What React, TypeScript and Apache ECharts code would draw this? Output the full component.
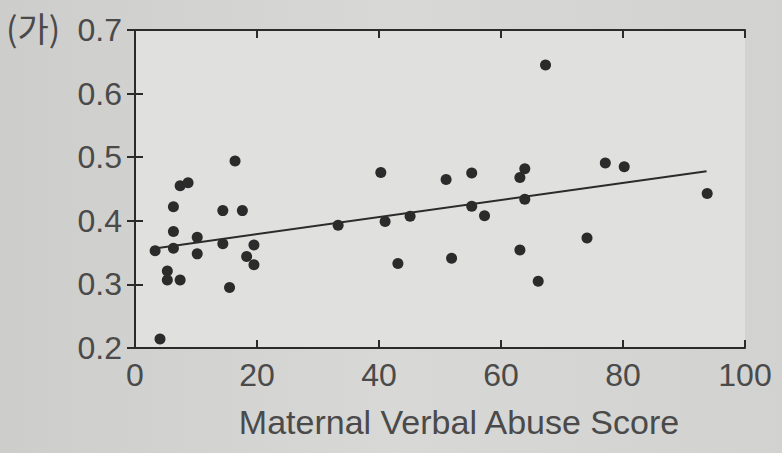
import React, { useEffect, useRef } from "react";
import * as echarts from "echarts";

const xTicks = [0, 20, 40, 60, 80, 100];
const yTicks = [0.2, 0.3, 0.4, 0.5, 0.6, 0.7];

const abuseScores = [
  3.3, 4.1, 5.3, 5.3, 6.3, 6.3, 6.3, 7.4, 7.4, 8.7, 10.2, 10.2, 14.4, 14.4,
  15.5, 16.4, 17.6, 18.3, 19.5, 19.5, 33.3, 40.3, 41.0, 43.1, 45.1, 51.0,
  51.9, 55.2, 55.2, 57.3, 63.1, 63.9, 63.9, 63.1, 66.1, 67.3, 74.1, 77.1,
  80.2, 93.8,
];
const outcomeValues = [
  0.353, 0.214, 0.321, 0.307, 0.422, 0.383, 0.357, 0.307, 0.455, 0.46, 0.374,
  0.348, 0.416, 0.364, 0.295, 0.494, 0.416, 0.344, 0.362, 0.331, 0.393, 0.476,
  0.399, 0.333, 0.407, 0.465, 0.341, 0.475, 0.423, 0.408, 0.468, 0.482, 0.434,
  0.354, 0.305, 0.645, 0.373, 0.491, 0.485, 0.443,
];
const fitLineX = [3.5, 93.7];
const fitLineY = [0.357, 0.478];

const INK = "#2b2b2b";
const TEXT = "#4a4a4a";
const FONT = "'Liberation Sans', Arial, sans-serif";

export default function App() {
  const ref = useRef<HTMLDivElement>(null);
  useEffect(() => {
    if (!ref.current) return;
    const chart = echarts.init(ref.current, null, { renderer: "svg" });
    const points = abuseScores.map((x, i) => [x, outcomeValues[i]]);
    const line = fitLineX.map((x, i) => [x, fitLineY[i]]);
    const axisLine = { show: true, lineStyle: { color: INK, width: 2 } };
    const tickStyle = { show: true, inside: true, length: 8, lineStyle: { color: INK, width: 2 } };
    chart.setOption({
      animation: false,
      backgroundColor: {
        type: "linear", x: 0, y: 0, x2: 1, y2: 0,
        colorStops: [
          { offset: 0, color: "#cdcdcb" },
          { offset: 0.5, color: "#d8d8d6" },
          { offset: 1, color: "#d2d2d0" },
        ],
      },
      grid: {
        left: 135, right: 37, top: 30, bottom: 105,
        show: true, backgroundColor: "#e0e0de", borderWidth: 0,
      },
      graphic: [
        {
          type: "text", left: 6, top: 10,
          style: { text: "(가)", fill: TEXT, font: "34px 'Noto Sans CJK KR', sans-serif" },
        },
      ],
      xAxis: [
        {
          type: "value", min: 0, max: 100, interval: 20, position: "bottom",
          axisLine, axisTick: tickStyle, splitLine: { show: false },
          axisLabel: {
            color: TEXT, fontSize: 32, fontFamily: FONT, margin: 11,
            formatter: (v: number) => (xTicks.includes(v) ? String(v) : ""),
          },
          name: "Maternal Verbal Abuse Score", nameLocation: "middle", nameGap: 57,
          nameTextStyle: { color: TEXT, fontSize: 34, fontFamily: FONT, padding: [0, 0, 0, 38] },
        },
        {
          type: "value", min: 0, max: 100, interval: 20, position: "top",
          axisLine, axisTick: tickStyle, splitLine: { show: false },
          axisLabel: { show: false },
        },
      ],
      yAxis: [
        {
          type: "value", min: 0.2, max: 0.7, interval: 0.1, position: "left",
          axisLine, axisTick: tickStyle, splitLine: { show: false },
          axisLabel: {
            color: TEXT, fontSize: 32, fontFamily: FONT, margin: 13,
            formatter: (v: number) => {
              const t = yTicks.find((y) => Math.abs(y - v) < 1e-6);
              return t === undefined ? "" : t.toFixed(1);
            },
          },
        },
        {
          type: "value", min: 0.2, max: 0.7, interval: 0.1, position: "right",
          axisLine, axisTick: tickStyle, splitLine: { show: false },
          axisLabel: { show: false },
        },
      ],
      series: [
        {
          type: "line", data: line, showSymbol: false, symbol: "none",
          lineStyle: { color: INK, width: 2 }, z: 2,
        },
        {
          type: "scatter", data: points, symbolSize: 11,
          itemStyle: { color: INK, opacity: 1 }, z: 3,
        },
      ],
    });
    return () => chart.dispose();
  }, []);
  return <div ref={ref} style={{ width: 782, height: 453, position: "absolute", left: 0, top: 0 }} />;
}
